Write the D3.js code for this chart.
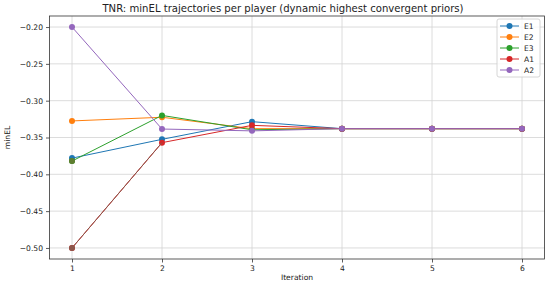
<!DOCTYPE html>
<html>
<head>
<meta charset="utf-8">
<script src="https://cdn.jsdelivr.net/npm/d3@7"></script>
<style>
  body { margin: 0; background: #fff; }
  svg text { font-family: "DejaVu Sans", sans-serif; fill: #222; }
</style>
</head>
<body>
<div class="canva"></div>
<script>
// iterations + per-player trajectories
const iterations = [1, 2, 3, 4, 5, 6];
const players = ["E1", "E2", "E3", "A1", "A2"];
const colors = ["#1f77b4", "#ff7f0e", "#2ca02c", "#d62728", "#9467bd"];
const E1 = [-0.378, -0.3525, -0.3285, -0.338, -0.338, -0.338];
const E2 = [-0.3275, -0.3225, -0.338, -0.338, -0.338, -0.338];
const E3 = [-0.382, -0.320, -0.3395, -0.338, -0.338, -0.338];
const A1 = [-0.500, -0.357, -0.3335, -0.338, -0.338, -0.338];
const A2 = [-0.200, -0.3385, -0.341, -0.338, -0.338, -0.338];
const yTicks = [-0.50, -0.45, -0.40, -0.35, -0.30, -0.25, -0.20];

const series = [E1, E2, E3, A1, A2];

const W = 550, H = 284;
const m = { left: 49.5, right: 5.5, top: 16, bottom: 25 };

const svg = d3.select(".canva").append("svg")
    .attr("width", W)
    .attr("height", H);

const x = d3.scaleLinear()
    .domain([0.75, 6.25])
    .range([m.left, W - m.right]);

const y = d3.scaleLinear()
    .domain([-0.515, -0.185])
    .range([H - m.bottom, m.top]);

// grid
svg.append("g")
    .selectAll("line.gx")
    .data(iterations)
    .enter().append("line")
    .attr("x1", d => x(d)).attr("x2", d => x(d))
    .attr("y1", m.top).attr("y2", H - m.bottom)
    .attr("stroke", "#d3d3d3").attr("stroke-width", 0.8);

svg.append("g")
    .selectAll("line.gy")
    .data(yTicks)
    .enter().append("line")
    .attr("x1", m.left).attr("x2", W - m.right)
    .attr("y1", d => y(d)).attr("y2", d => y(d))
    .attr("stroke", "#d3d3d3").attr("stroke-width", 0.8);

// axes
const xAxis = d3.axisBottom(x).tickValues(iterations).tickFormat(d3.format("d")).tickSize(3.5).tickPadding(3);
const yAxis = d3.axisLeft(y).tickValues(yTicks).tickFormat(d => d3.format(".2f")(d).replace("-", "\u2212")).tickSize(3.5).tickPadding(3);

const gx = svg.append("g").attr("transform", `translate(0,${H - m.bottom})`).call(xAxis);
const gy = svg.append("g").attr("transform", `translate(${m.left},0)`).call(yAxis);
[gx, gy].forEach(g => {
    g.select(".domain").remove();
    g.selectAll("text").style("font-size", "7.6px").attr("fill", "#222");
    g.selectAll("line").attr("stroke", "#333").attr("stroke-width", 0.8);
});

svg.append("rect")
    .attr("x", m.left).attr("y", m.top)
    .attr("width", W - m.left - m.right)
    .attr("height", H - m.top - m.bottom)
    .attr("fill", "none").attr("stroke", "#333").attr("stroke-width", 0.8);

// lines
const line = d3.line()
    .x((d, i) => x(iterations[i]))
    .y(d => y(d));

series.forEach((s, k) => {
    svg.append("path")
        .attr("d", line(s))
        .attr("fill", "none")
        .attr("stroke", colors[k])
        .attr("stroke-width", 1);
    svg.append("g").selectAll("circle")
        .data(s)
        .enter().append("circle")
        .attr("cx", (d, i) => x(iterations[i]))
        .attr("cy", d => y(d))
        .attr("r", 3)
        .attr("fill", colors[k]);
});

// A1 first segment shows brown in the reference
svg.append("path")
    .attr("d", line(A1.slice(0, 2)))
    .attr("fill", "none").attr("stroke", "#8c564b").attr("stroke-width", 1);
svg.append("circle")
    .attr("cx", x(iterations[0])).attr("cy", y(A1[0]))
    .attr("r", 3).attr("fill", "#8c564b");
svg.append("circle")
    .attr("cx", x(iterations[0])).attr("cy", y(E3[0]))
    .attr("r", 3).attr("fill", "#5f7d30");

// title + labels
svg.append("text")
    .attr("x", 283).attr("y", 12)
    .attr("text-anchor", "middle")
    .style("font-size", "10.1px")
    .text("TNR: minEL trajectories per player (dynamic highest convergent priors)");

svg.append("text")
    .attr("x", (m.left + W - m.right) / 2).attr("y", 280)
    .attr("text-anchor", "middle")
    .style("font-size", "7.6px")
    .text("Iteration");

svg.append("text")
    .attr("transform", `translate(10,${(m.top + H - m.bottom) / 2}) rotate(-90)`)
    .attr("text-anchor", "middle")
    .style("font-size", "7.6px")
    .text("minEL");

// legend
const lg = svg.append("g").attr("transform", "translate(497,19)");
lg.append("rect")
    .attr("width", 43).attr("height", 58).attr("rx", 2)
    .attr("fill", "#fff").attr("fill-opacity", 0.8)
    .attr("stroke", "#ccc").attr("stroke-width", 0.8);
const items = lg.selectAll("g.item")
    .data(players)
    .enter().append("g")
    .attr("transform", (d, i) => `translate(0,${7 + i * 11})`);
items.append("line")
    .attr("x1", 3).attr("x2", 22)
    .attr("stroke", (d, i) => colors[i]).attr("stroke-width", 1);
items.append("circle")
    .attr("cx", 12.5).attr("r", 3)
    .attr("fill", (d, i) => colors[i]);
items.append("text")
    .attr("x", 27).attr("y", 2.8)
    .style("font-size", "7.6px")
    .text(d => d);
</script>
</body>
</html>
